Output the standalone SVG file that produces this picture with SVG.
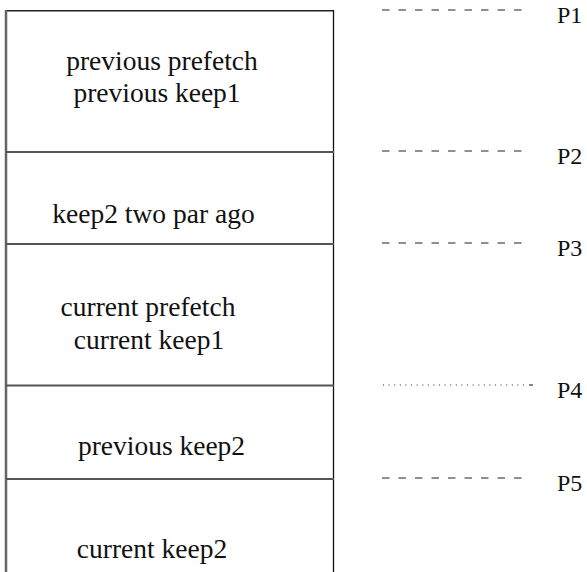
<svg xmlns="http://www.w3.org/2000/svg" width="587" height="572" viewBox="0 0 587 572">
  <style>
    .lbl { font-family: "Liberation Serif", "Times New Roman", serif; font-size: 27.5px; fill: #111; text-anchor: middle; }
    .plbl { font-family: "Liberation Serif", "Times New Roman", serif; font-size: 24px; fill: #111; }
    .div { stroke: #555; stroke-width: 2; }
    .dash { stroke: #222; stroke-width: 1.2; stroke-dasharray: 7.5 9; fill: none; }
    .dot { stroke: #333; stroke-width: 1.2; stroke-dasharray: 1 4.6; fill: none; }
  </style>
  <rect width="587" height="572" fill="#fff"/>

  <!-- stack outline -->
  <g id="stack">
    <line x1="5" y1="10.8" x2="334" y2="10.8" stroke="#222" stroke-width="1.6"/>
    <line x1="6" y1="10" x2="6" y2="572" stroke="#666" stroke-width="2.5"/>
    <line x1="333.5" y1="10" x2="333.5" y2="572" stroke="#111" stroke-width="1.3"/>
  </g>

  <g id="seg-prev-prefetch">
    <text class="lbl" x="162" y="70">previous prefetch</text>
    <text class="lbl" x="157" y="102">previous keep1</text>
  </g>
  <g id="seg-keep2-two">
    <line class="div" x1="6" y1="152" x2="334" y2="152"/>
    <text class="lbl" x="153.5" y="222.5">keep2 two par ago</text>
  </g>
  <g id="seg-cur-prefetch">
    <line class="div" x1="6" y1="244" x2="334" y2="244"/>
    <text class="lbl" x="148" y="316">current prefetch</text>
    <text class="lbl" x="149" y="349">current keep1</text>
  </g>
  <g id="seg-prev-keep2">
    <line class="div" x1="6" y1="385.5" x2="334" y2="385.5"/>
    <text class="lbl" x="161.5" y="455">previous keep2</text>
  </g>
  <g id="seg-cur-keep2">
    <line class="div" x1="6" y1="479" x2="334" y2="479"/>
    <text class="lbl" x="152" y="558">current keep2</text>
  </g>

  <!-- pointer markers -->
  <g id="connectors">
    <line class="dash" x1="382" y1="10" x2="523" y2="10"/>
    <line class="dash" x1="382" y1="151" x2="523" y2="151"/>
    <line class="dash" x1="382" y1="243" x2="523" y2="243"/>
    <line class="dot" x1="383" y1="385" x2="528" y2="385"/>
    <line x1="529" y1="385" x2="533" y2="385" stroke="#333" stroke-width="1.2"/>
    <line class="dash" x1="382" y1="478" x2="523" y2="478"/>
  </g>

  <g id="P1"><text class="plbl" x="557" y="23">P1</text></g>
  <g id="P2"><text class="plbl" x="557" y="164">P2</text></g>
  <g id="P3"><text class="plbl" x="557" y="256">P3</text></g>
  <g id="P4"><text class="plbl" x="557" y="398">P4</text></g>
  <g id="P5"><text class="plbl" x="557" y="491">P5</text></g>
</svg>
